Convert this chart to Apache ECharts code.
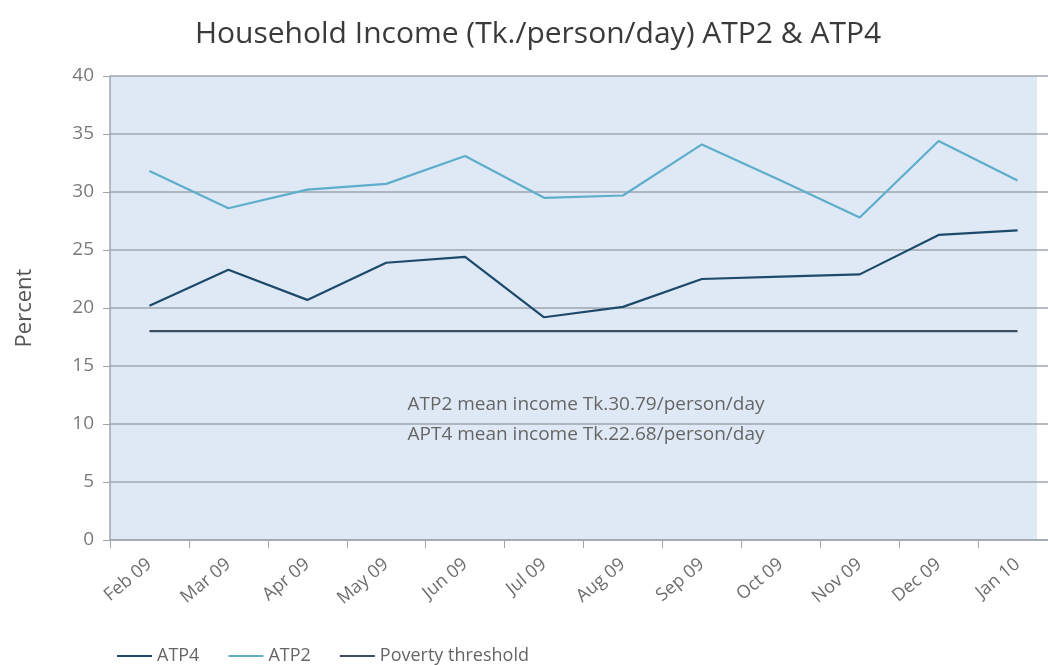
<!DOCTYPE html>
<html>
<head>
<meta charset="utf-8">
<script src="https://cdn.jsdelivr.net/npm/echarts@6/dist/echarts.min.js"></script>
<style>
html,body{margin:0;padding:0;background:#fff;overflow:hidden;width:1048px;height:665px;}
#chart{width:1060px;height:665px;}
</style>
</head>
<body>
<div id="chart"></div>
<script>
const categories = ['Feb 09','Mar 09','Apr 09','May 09','Jun 09','Jul 09','Aug 09','Sep 09','Oct 09','Nov 09','Dec 09','Jan 10'];
const atp4 = [20.2, 23.3, 20.7, 23.9, 24.4, 19.2, 20.1, 22.5, 22.7, 22.9, 26.3, 26.7];
const atp2 = [31.8, 28.6, 30.2, 30.7, 33.1, 29.5, 29.7, 34.1, 31.0, 27.8, 34.4, 31.0];
const poverty = [18, 18, 18, 18, 18, 18, 18, 18, 18, 18, 18, 18];
const yTicks = { min: 0, max: 40, interval: 5 };
const noteLines = ['ATP2 mean income Tk.30.79/person/day', 'APT4 mean income Tk.22.68/person/day'];

const FONT = '"Open Sans", "Noto Sans", sans-serif';
const AXIS = '#9ea6ae';
const chart = echarts.init(document.getElementById('chart'), null, {renderer: 'canvas'});
chart.setOption({
  animation: false,
  backgroundColor: '#ffffff',
  textStyle: { fontFamily: FONT },
  title: [
    { text: 'Household Income (Tk./person/day) ATP2 & ATP4', left: 533, top: 14, textAlign: 'center',
      textStyle: { fontFamily: FONT, fontSize: 30, fontWeight: 'normal', color: '#3a3a3a' } },
    { text: noteLines[0], left: 581, top: 390, textAlign: 'center',
      textStyle: { fontFamily: FONT, fontSize: 19, fontWeight: 'normal', color: '#666' } },
    { text: noteLines[1], left: 581, top: 420, textAlign: 'center',
      textStyle: { fontFamily: FONT, fontSize: 19, fontWeight: 'normal', color: '#666' } }
  ],
  grid: [
    { left: 110, top: 76, height: 464, width: 947, show: false },
    { left: 110, top: 76, height: 464, width: 927, show: true, backgroundColor: '#dfe9f5', borderWidth: 0 }
  ],
  legend: {
    left: 112, top: 642, itemGap: 29, itemWidth: 35, itemHeight: 2, icon: 'rect',
    textStyle: { fontFamily: FONT, fontSize: 18, color: '#666' },
    data: ['ATP4', 'ATP2', 'Poverty threshold']
  },
  xAxis: [{
    type: 'category', data: categories, boundaryGap: true, gridIndex: 0,
    axisLine: { lineStyle: { color: AXIS, width: 1.5 } },
    axisTick: { show: true, length: 8, lineStyle: { color: AXIS } },
    axisLabel: { rotate: 40, fontSize: 18, color: '#6e6e6e', margin: 22, fontFamily: FONT }
  }, { type: 'category', data: categories, gridIndex: 1, show: false }],
  yAxis: [{
    type: 'value', min: yTicks.min, max: yTicks.max, interval: yTicks.interval, gridIndex: 0,
    name: 'Percent', nameLocation: 'middle', nameGap: 74, nameRotate: 90,
    nameTextStyle: { fontSize: 22, color: '#555', fontFamily: FONT },
    axisLine: { show: true, lineStyle: { color: AXIS, width: 1.5 } },
    axisTick: { show: true, length: 7, lineStyle: { color: AXIS } },
    axisLabel: { fontSize: 19, color: '#7a7a7a', margin: 16, fontFamily: FONT },
    splitLine: { lineStyle: { color: AXIS, width: 1.5 } }
  }, { type: 'value', min: yTicks.min, max: yTicks.max, gridIndex: 1, show: false, splitLine: { show: false } }],
  series: [
    { name: 'ATP4', type: 'line', data: atp4, symbol: 'none', color: '#1d4a6b', lineStyle: { width: 2.2, color: '#1d4a6b' } },
    { name: 'ATP2', type: 'line', data: atp2, symbol: 'none', color: '#5eaecb', lineStyle: { width: 2.2, color: '#5eaecb' } },
    { name: 'Poverty threshold', type: 'line', data: poverty, symbol: 'none', color: '#3e4f63', lineStyle: { width: 2.2, color: '#3e4f63' } }
  ]
});
</script>
</body>
</html>
